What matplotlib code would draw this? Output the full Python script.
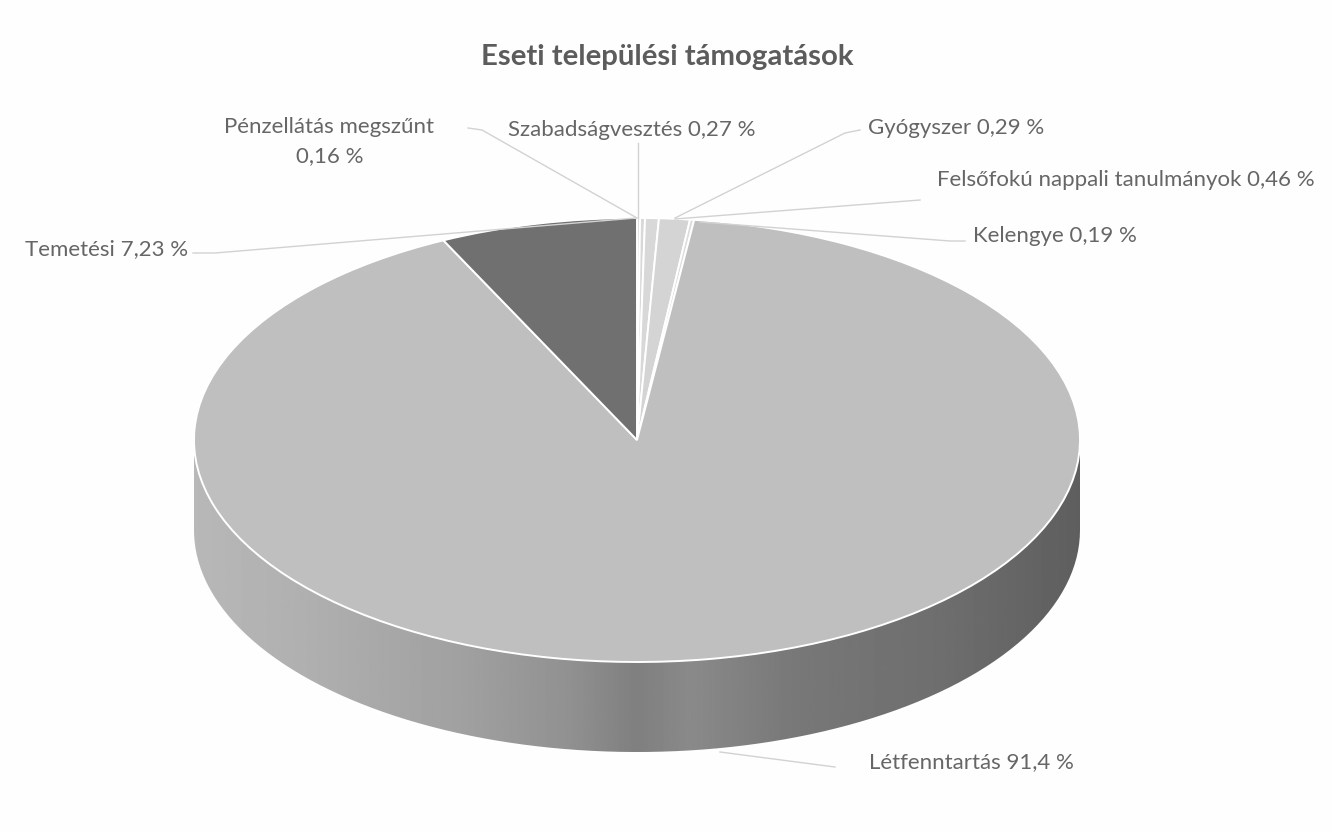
import numpy as np
import matplotlib
matplotlib.use("Agg")
import matplotlib.pyplot as plt
from matplotlib.patches import PathPatch
from matplotlib.path import Path

W, H = 1332, 832

title = "Eseti települési támogatások"
categories = ["Pénzellátás megszűnt", "Szabadságvesztés", "Gyógyszer",
              "Felsőfokú nappali tanulmányok", "Kelengye", "Létfenntartás", "Temetési"]
# what the labels print
percent_labels = ["0,16 %", "0,27 %", "0,29 %", "0,46 %", "0,19 %", "91,4 %", "7,23 %"]
# slice widths as they are drawn in the picture (perspective widens the small ones)
drawn_shares = [0.11, 0.18, 0.50, 1.12, 0.15, 90.74, 7.20]
slice_colors = ["#dcdcdc", "#d8d8d8", "#d8d8d8", "#d4d4d4", "#dcdcdc", "#bfbfbf", "#707070"]

# side wall shading, left to right
wall_pos = [0.0, 0.12, 0.3, 0.42, 0.5, 0.56, 0.68, 0.85, 1.0]
wall_gray = [0.72, 0.69, 0.63, 0.57, 0.50, 0.54, 0.47, 0.43, 0.37]

cx, cy, rx, ry, depth = 637, 440, 443, 222, 90

plt.rcParams["font.family"] = ["Lato", "DejaVu Sans"]
fig = plt.figure(figsize=(W / 100, H / 100), dpi=100, facecolor="#fefefe")

# pixel axes for wall, leaders and text
bg = fig.add_axes([0, 0, 1, 1])
bg.set_xlim(0, W)
bg.set_ylim(H, 0)
bg.axis("off")

t = np.linspace(0, np.pi, 200)
wall_x = np.r_[cx + rx * np.cos(t), cx - rx, cx + rx]
wall_y = np.r_[cy + depth + ry * np.sin(t), cy, cy]
wall_clip = PathPatch(Path(np.c_[wall_x, wall_y]), fc="none", ec="none")
bg.add_patch(wall_clip)
shade = np.interp(np.linspace(0, 1, 600), wall_pos, wall_gray)[None, :]
im = bg.imshow(shade, cmap="gray", vmin=0, vmax=1, aspect="auto",
               extent=[cx - rx, cx + rx, cy + depth + ry, cy], zorder=1)
im.set_clip_path(wall_clip)
bg.set_xlim(0, W)
bg.set_ylim(H, 0)

# pie top: radius 1 stretched to the ellipse by the axes box
ax = fig.add_axes([(cx - 1.25 * rx) / W, 1 - (cy + 1.25 * ry) / H,
                   2.5 * rx / W, 2.5 * ry / H])
ax.pie(drawn_shares, colors=slice_colors, startangle=90, counterclock=False,
       wedgeprops=dict(edgecolor="white", linewidth=1.4))
ax.set_aspect("auto")
ax.set_xlim(-1.25, 1.25)
ax.set_ylim(-1.25, 1.25)
ax.patch.set_alpha(0)

fig.text(667 / W, 1 - 57 / H, title, fontsize=21.2, color="#5c5c5c", fontweight="bold",
         ha="center", va="center")

leaders = [
    ([468, 482, 637], [128, 130, 218]),
    ([638, 638], [143, 218]),
    ([860, 845, 675], [130, 133, 218]),
    ([920, 675], [200, 219]),
    ([965, 950, 700], [241, 241, 222]),
    ([835, 720], [767, 752]),
    ([193, 215, 636], [253, 253, 218]),
]
overlay = fig.add_axes([0, 0, 1, 1])
overlay.set_xlim(0, W)
overlay.set_ylim(H, 0)
overlay.axis("off")
for xs, ys in leaders:
    overlay.plot(xs, ys, color="#d2d2d2", lw=1)

label_color = "#666666"
fs = 16
overlay.text(434, 127, categories[0], fontsize=fs, color=label_color, ha="right", va="center")
overlay.text(330, 156, percent_labels[0], fontsize=fs, color=label_color, ha="center", va="center")
overlay.text(632, 130, f"{categories[1]} {percent_labels[1]}", fontsize=fs, color=label_color, ha="center", va="center")
overlay.text(868, 128, f"{categories[2]} {percent_labels[2]}", fontsize=fs, color=label_color, ha="left", va="center")
overlay.text(937, 180, f"{categories[3]} {percent_labels[3]}", fontsize=fs, color=label_color, ha="left", va="center")
overlay.text(973, 236, f"{categories[4]} {percent_labels[4]}", fontsize=fs, color=label_color, ha="left", va="center")
overlay.text(869, 762, f"{categories[5]} {percent_labels[5]}", fontsize=fs, color=label_color, ha="left", va="center")
overlay.text(188, 249, f"{categories[6]} {percent_labels[6]}", fontsize=fs, color=label_color, ha="right", va="center")

fig.savefig("out.png", dpi=100, facecolor=fig.get_facecolor())
